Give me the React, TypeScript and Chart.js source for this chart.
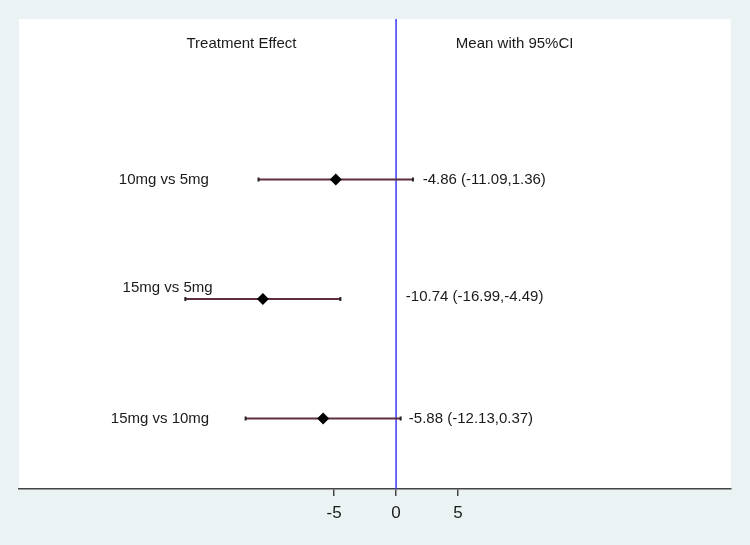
import React, { useEffect, useRef } from "react";
import { Chart, registerables } from "chart.js";

Chart.register(...registerables);

// ---- data ----
const categories = ["10mg vs 5mg", "15mg vs 5mg", "15mg vs 10mg"];
const means = [-4.86, -10.74, -5.88];
const lowers = [-11.09, -16.99, -12.13];
const uppers = [1.36, -4.49, 0.37];
const rowY = [3, 2, 1];
const xTicks = [-5, 0, 5];
const headerLeft = "Treatment Effect";
const headerRight = "Mean with 95%CI";

// text anchor positions (data coordinates)
const catLabelX = [-22.35, -22.05, -23.0];
const catLabelY = [3.0, 2.092, 1.0];
const valLabelX = [2.15, 0.79, 1.03];
const valLabelY = [3.0, 2.02, 1.0];
const headerX = [-16.9, 4.82];
const headerY = 4.138;

const X_MIN = -30.4;
const X_MAX = 26.97;
const Y_MIN = 0.41;
const Y_MAX = 4.343;

const BG = "#EAF2F3";
const BAR = "#5e2f3a";
const FONT = "'Liberation Sans', Arial, sans-serif";

const fmt = (v: number) => v.toFixed(2);
const valueLabels = means.map(
  (m, i) => `${fmt(m)} (${fmt(lowers[i])},${fmt(uppers[i])})`
);

const bgPlugin = {
  id: "bgPlugin",
  beforeDraw(chart: any) {
    const { ctx, chartArea } = chart;
    ctx.save();
    ctx.fillStyle = BG;
    ctx.fillRect(0, 0, chart.width, chart.height);
    ctx.fillStyle = "#ffffff";
    ctx.fillRect(
      chartArea.left,
      chartArea.top,
      chartArea.right - chartArea.left,
      chartArea.bottom - chartArea.top
    );
    ctx.restore();
  },
  beforeDatasetsDraw(chart: any) {
    const { ctx, chartArea, scales } = chart;
    const x0 = scales.x.getPixelForValue(0);
    ctx.save();
    ctx.strokeStyle = "#3b3bff";
    ctx.lineWidth = 1.5;
    ctx.beginPath();
    ctx.moveTo(x0, chartArea.top);
    ctx.lineTo(x0, chartArea.bottom);
    ctx.stroke();
    ctx.restore();
  },
  afterDraw(chart: any) {
    const { ctx, scales } = chart;
    const xs = scales.x;
    const ys = scales.y;
    ctx.save();
    ctx.fillStyle = "#1a1a1a";
    ctx.font = `15px ${FONT}`;
    ctx.textBaseline = "middle";
    ctx.textAlign = "left";
    ctx.fillText(headerLeft, xs.getPixelForValue(headerX[0]), ys.getPixelForValue(headerY));
    ctx.fillText(headerRight, xs.getPixelForValue(headerX[1]), ys.getPixelForValue(headerY));
    categories.forEach((c, i) => {
      ctx.fillText(c, xs.getPixelForValue(catLabelX[i]), ys.getPixelForValue(catLabelY[i]));
      ctx.fillText(
        valueLabels[i],
        xs.getPixelForValue(valLabelX[i]),
        ys.getPixelForValue(valLabelY[i])
      );
    });
    ctx.restore();
  },
};

export default function App() {
  const ref = useRef<HTMLCanvasElement | null>(null);
  useEffect(() => {
    if (!ref.current) return;
    const ciSets = categories.map((c, i) => ({
      type: "line" as const,
      label: c,
      data: [
        { x: lowers[i], y: rowY[i] },
        { x: uppers[i], y: rowY[i] },
      ],
      borderColor: BAR,
      borderWidth: 2,
      pointStyle: "line",
      pointRotation: 90,
      pointRadius: 2,
      pointBorderColor: "#222222",
      pointBorderWidth: 2,
      showLine: true,
      order: 2,
    }));
    const chart = new Chart(ref.current, {
      type: "scatter",
      data: {
        datasets: [
          ...ciSets,
          {
            type: "scatter" as const,
            label: "Mean",
            data: means.map((m, i) => ({ x: m, y: rowY[i] })),
            pointStyle: "rectRot",
            pointRadius: 6,
            backgroundColor: "#000000",
            borderColor: "#000000",
            borderWidth: 0,
            order: 1,
          },
        ] as any,
      },
      options: {
        animation: false,
        responsive: false,
        maintainAspectRatio: false,
        layout: { padding: { left: 19, right: 19.4, top: 19, bottom: 0 } },
        plugins: {
          legend: { display: false },
          tooltip: { enabled: false },
        },
        scales: {
          x: {
            type: "linear",
            min: X_MIN,
            max: X_MAX,
            afterBuildTicks: (s: any) => {
              s.ticks = xTicks.map((v) => ({ value: v }));
            },
            afterFit: (s: any) => {
              s.height = 56;
            },
            grid: {
              display: true,
              drawOnChartArea: false,
              drawTicks: true,
              tickLength: 7,
              color: "#444444",
              lineWidth: 1.5,
            },
            border: { display: true, color: "#444444", width: 1.5 },
            ticks: {
              autoSkip: false,
              maxRotation: 0,
              padding: 7,
              color: "#1a1a1a",
              font: { family: FONT, size: 17 },
              callback: (v: any) => String(v),
            },
          },
          y: {
            type: "linear",
            min: Y_MIN,
            max: Y_MAX,
            display: false,
          },
        },
      },
      plugins: [bgPlugin],
    });
    return () => chart.destroy();
  }, []);
  return (
    <div style={{ position: "fixed", left: 0, top: 0, width: 750, height: 545 }}>
      <canvas ref={ref} width={750} height={545} style={{ width: 750, height: 545 }} />
    </div>
  );
}
